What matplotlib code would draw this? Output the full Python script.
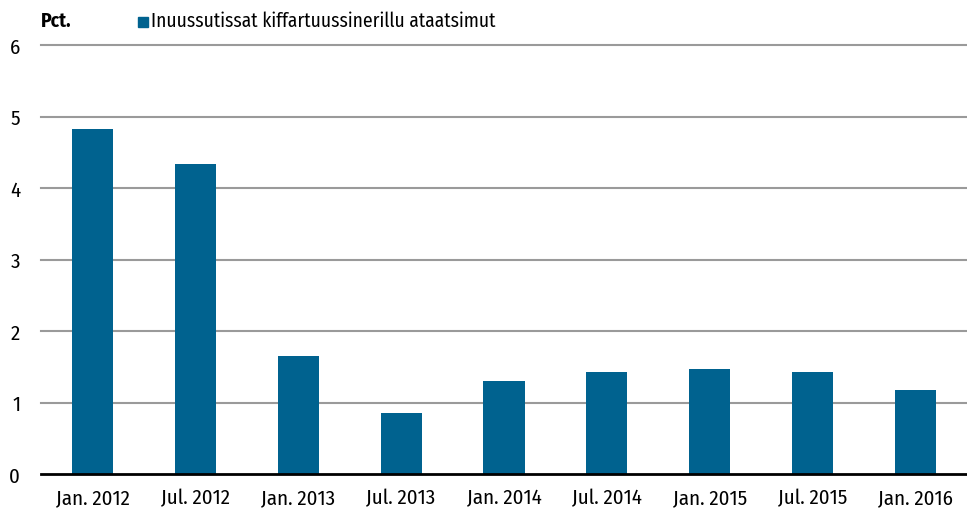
import matplotlib
matplotlib.use("Agg")
import matplotlib.pyplot as plt
from matplotlib.patches import Rectangle

# ── DATA ──────────────────────────────────────────────────────────────────────
categories = ["Jan. 2012", "Jul. 2012", "Jan. 2013", "Jul. 2013", "Jan. 2014",
              "Jul. 2014", "Jan. 2015", "Jul. 2015", "Jan. 2016"]
values = [4.82, 4.33, 1.65, 0.85, 1.30, 1.42, 1.47, 1.43, 1.17]
yticks = [0, 1, 2, 3, 4, 5, 6]
series_label = "Inuussutissat kiffartuussinerillu ataatsimut"
unit_label = "Pct."

BAR_COLOR = "#00628f"

plt.rcParams["font.family"] = ["Fira Sans Condensed", "DejaVu Sans"]

# ── PLOT ──────────────────────────────────────────────────────────────────────
fig = plt.figure(figsize=(9.67, 5.10), dpi=100)
ax = fig.add_axes([41 / 967, 1 - 475 / 510, 1 - 41 / 967, (475 - 46) / 510])

x = range(len(categories))
ax.bar(x, values, width=0.4, color=BAR_COLOR, zorder=3)

ax.set_xlim(-0.5, len(categories) - 0.5)
ax.set_ylim(0, 6)
ax.set_yticks(yticks)
ax.set_xticks(list(x))
ax.set_xticklabels(categories)

# gridlines and zero line
for t in yticks[1:]:
    ax.axhline(t, color="#9a9a9a", linewidth=1.5, zorder=1, clip_on=False)
ax.axhline(0, color="black", linewidth=2, zorder=4, clip_on=False)

for s in ax.spines.values():
    s.set_visible(False)
ax.tick_params(axis="both", length=0, labelsize=15)
ax.tick_params(axis="y", pad=15)
ax.tick_params(axis="x", pad=10)

# header texts
fig.text(41 / 967, 1 - 21 / 510, unit_label, fontsize=14, fontweight="bold",
         va="center", ha="left")
fig.patches.append(Rectangle((138 / 967, 1 - 28 / 510), 10 / 967, 10 / 510,
                             transform=fig.transFigure, color=BAR_COLOR))
fig.text(151 / 967, 1 - 21 / 510, series_label, fontsize=14,
         va="center", ha="left")

plt.savefig("out.png", dpi=100)
